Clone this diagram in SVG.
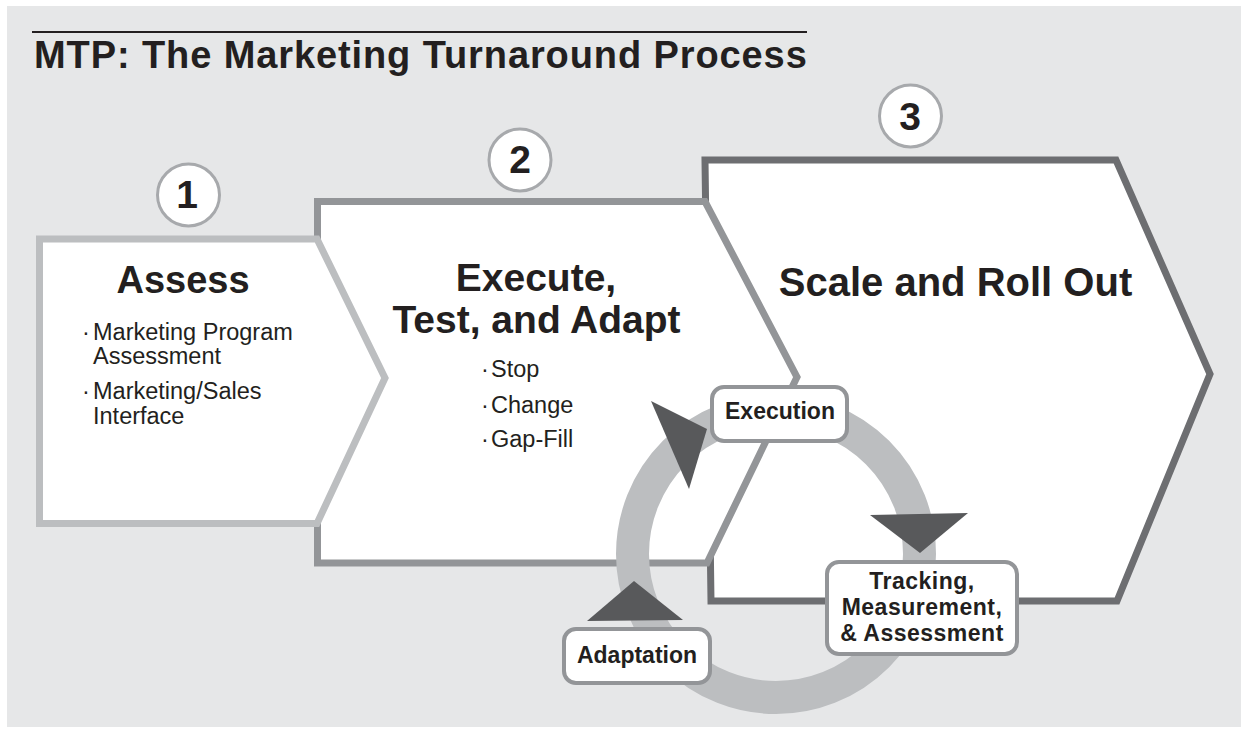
<svg xmlns="http://www.w3.org/2000/svg" width="1241" height="732" viewBox="0 0 1241 732">
  <style>
    .bold { font-family: "Liberation Sans", Arial, sans-serif; font-weight: bold; fill: #231f20; }
    .reg { font-family: "Liberation Sans", Arial, sans-serif; fill: #231f20; }
    .head { font-size: 39px; text-anchor: middle; }
    .num { font-size: 39px; text-anchor: middle; }
    .item { font-size: 23.5px; }
    .lbl { font-size: 23px; text-anchor: middle; }
    .badge { fill: #ffffff; stroke: #a7a9ac; stroke-width: 3; }
    .step { fill: #ffffff; stroke-width: 7; stroke-linejoin: miter; }
    .tag { fill: #ffffff; stroke: #939598; stroke-width: 4; }
    .head-arrow { fill: #58595b; }
  </style>

  <!-- page background -->
  <rect x="7" y="6" width="1234" height="721" fill="#e6e7e8"/>

  <!-- title -->
  <g id="title">
    <line x1="32" y1="32" x2="807" y2="32" stroke="#231f20" stroke-width="2"/>
    <text class="bold" x="34" y="68" font-size="38" letter-spacing="0.9">MTP: The Marketing Turnaround Process</text>
  </g>

  <!-- step 3 (lowest layer) -->
  <g id="step3">
    <polygon class="step" stroke="#6d6e71" points="705,160 1116,160 1210,374 1117,601 711,601"/>
    <circle class="badge" cx="910.5" cy="116" r="31"/>
    <text class="bold num" x="910" y="129.5">3</text>
    <text class="bold" x="955.5" y="296" font-size="40" text-anchor="middle">Scale and Roll Out</text>
  </g>

  <!-- step 2 -->
  <g id="step2">
    <polygon class="step" stroke="#939598" points="317.5,201.5 705,201.5 797,377 707,563 317.5,563"/>
    <circle class="badge" cx="520" cy="160" r="31"/>
    <text class="bold num" x="520" y="172.5">2</text>
    <text class="bold head" x="536" y="291" font-size="40">Execute,</text>
    <text class="bold head" x="536.5" y="333" font-size="40">Test, and Adapt</text>
    <text class="reg item"><tspan x="481" y="377">·</tspan><tspan x="491" y="377">Stop</tspan></text>
    <text class="reg item"><tspan x="481" y="413">·</tspan><tspan x="491" y="413">Change</tspan></text>
    <text class="reg item"><tspan x="481" y="447">·</tspan><tspan x="491" y="447">Gap-Fill</tspan></text>
  </g>

  <!-- step 1 (top layer) -->
  <g id="step1">
    <polygon class="step" stroke="#bcbec0" points="39.5,239 317,239 385,378 317,523.5 39.5,523.5"/>
    <circle class="badge" cx="188.5" cy="195" r="31"/>
    <text class="bold num" x="187" y="208">1</text>
    <text class="bold" x="183" y="293" font-size="38" text-anchor="middle">Assess</text>
    <text class="reg item"><tspan x="82" y="340">·</tspan><tspan x="93" y="340">Marketing Program</tspan></text>
    <text class="reg item" x="93" y="364">Assessment</text>
    <text class="reg item"><tspan x="82" y="399">·</tspan><tspan x="93" y="399">Marketing/Sales</tspan></text>
    <text class="reg item" x="93" y="424">Interface</text>
  </g>

  <!-- cycle ring and its arrowheads -->
  <g id="connectors">
    <circle cx="776" cy="554" r="143.5" fill="none" stroke="#bcbec0" stroke-width="33"/>
    <polygon class="head-arrow" points="651,401 707,429 689,489"/>
    <polygon class="head-arrow" points="870,515 968,513 920,553"/>
    <polygon class="head-arrow" points="587,621 683,620 634,581"/>
  </g>

  <!-- cycle stages -->
  <g id="execution">
    <rect class="tag" x="712" y="387" width="135" height="54" rx="12"/>
    <text class="bold lbl" x="780" y="419">Execution</text>
  </g>
  <g id="tracking">
    <rect class="tag" x="827" y="562" width="190" height="92" rx="12"/>
    <text class="bold lbl" x="922" y="589" font-size="22.5" letter-spacing="0.5">Tracking,</text>
    <text class="bold lbl" x="922" y="615" font-size="22.5" letter-spacing="0.5">Measurement,</text>
    <text class="bold lbl" x="922" y="641" font-size="22.5" letter-spacing="0.5">&amp; Assessment</text>
  </g>
  <g id="adaptation">
    <rect class="tag" x="564" y="629" width="146" height="54" rx="12"/>
    <text class="bold lbl" x="637" y="663" font-size="23.5">Adaptation</text>
  </g>
</svg>
